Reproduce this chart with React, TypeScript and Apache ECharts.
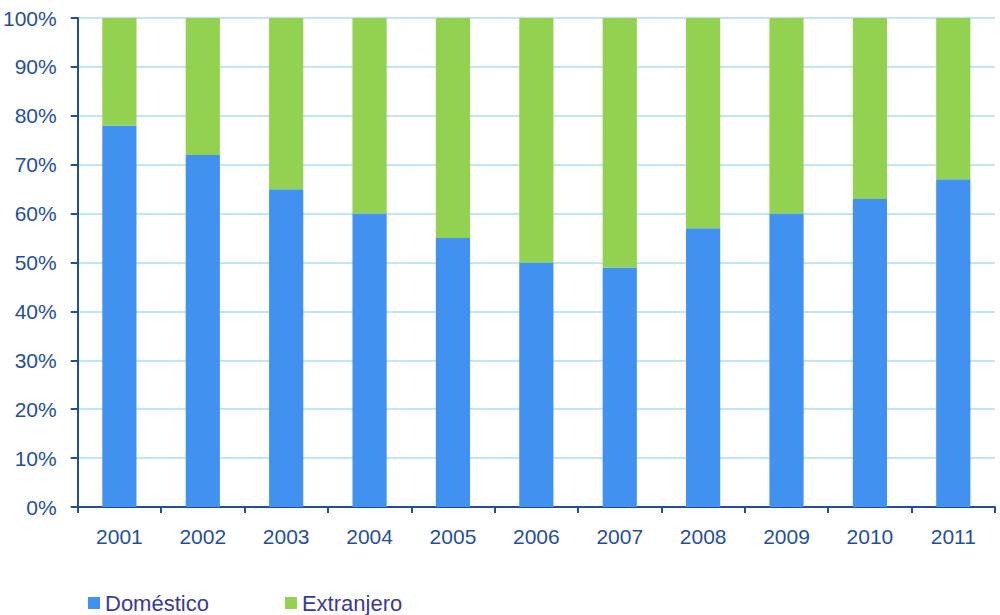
import React, { useEffect, useRef } from "react";
import * as echarts from "echarts";

const categories = ["2001", "2002", "2003", "2004", "2005", "2006", "2007", "2008", "2009", "2010", "2011"];
const domestico = [78, 72, 65, 60, 55, 50, 49, 57, 60, 63, 67];
const extranjero = domestico.map((v) => 100 - v);

export default function App() {
  const ref = useRef<HTMLDivElement>(null);
  useEffect(() => {
    const chart = echarts.init(ref.current!, undefined, { renderer: "svg" });
    chart.setOption({
      animation: false,
      grid: { left: 76, right: 5, top: 18, bottom: 108, containLabel: false },
      legend: {
        left: 83,
        top: 587,
        itemWidth: 12,
        itemHeight: 12,
        itemGap: 76,
        icon: "rect",
        textStyle: { fontFamily: "Liberation Sans, Arial", fontSize: 22, color: "#3a3a98" },
        data: ["Doméstico", "Extranjero"],
      },
      xAxis: {
        type: "category",
        data: categories,
        axisLine: { lineStyle: { color: "#1f4f9c", width: 2 } },
        axisTick: { show: true, length: 6, lineStyle: { color: "#1f4f9c", width: 2 } },
        axisLabel: { margin: 19, fontFamily: "Liberation Sans, Arial", fontSize: 21, color: "#1f4f9c" },
      },
      yAxis: {
        type: "value",
        min: 0,
        max: 100,
        interval: 10,
        axisLine: { show: true, lineStyle: { color: "#1f4f9c", width: 2 } },
        axisTick: { show: true, length: 7, lineStyle: { color: "#1f4f9c", width: 2 } },
        splitLine: { lineStyle: { color: "#bfe6f6", width: 2 } },
        axisLabel: {
          margin: 21,
          fontFamily: "Liberation Sans, Arial",
          fontSize: 21,
          color: "#1f4f9c",
          formatter: "{value}%",
        },
      },
      series: [
        {
          name: "Doméstico",
          type: "bar",
          stack: "a",
          data: domestico,
          barWidth: "41%",
          itemStyle: { color: "#4191f1" },
        },
        {
          name: "Extranjero",
          type: "bar",
          stack: "a",
          data: extranjero,
          barWidth: "41%",
          itemStyle: { color: "#93d150" },
        },
      ],
    });
    return () => chart.dispose();
  }, []);
  return <div ref={ref} style={{ width: 1000, height: 615, position: "absolute", left: 0, top: 0 }} />;
}
